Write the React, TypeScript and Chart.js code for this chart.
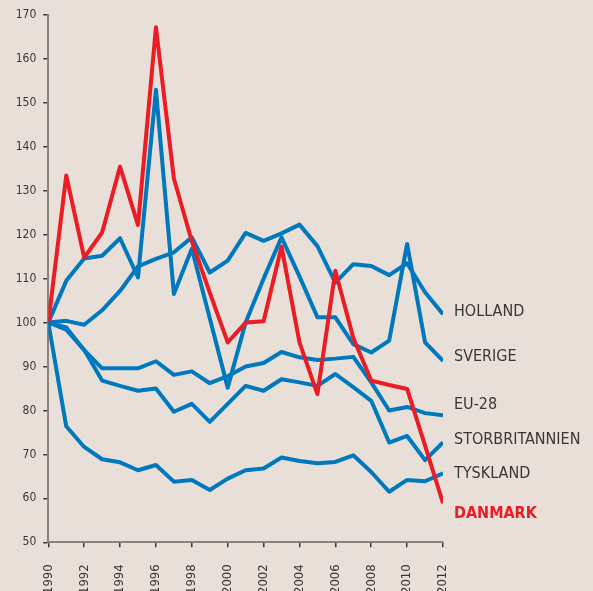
import React, { useEffect, useRef } from "react";
import { Chart, registerables } from "chart.js";

Chart.register(...registerables);

const years = [1990, 1991, 1992, 1993, 1994, 1995, 1996, 1997, 1998, 1999, 2000, 2001, 2002, 2003, 2004, 2005, 2006, 2007, 2008, 2009, 2010, 2011, 2012];

const danmark = [100, 133.5, 114.8, 120.5, 135.5, 122.2, 167.2, 132.8, 118.5, 106.8, 95.5, 100, 100.3, 117.3, 95.5, 83.7, 111.8, 96.5, 86.8, 85.8, 84.9, 72, 58.9];
const holland = [100, 100.4, 99.5, 102.8, 107.2, 112.8, 114.5, 116, 119.4, 111.4, 114.1, 120.4, 118.6, 120.3, 122.3, 117.4, 109.1, 113.3, 112.9, 110.8, 113.5, 106.9, 101.9];
const sverige = [100, 109.5, 114.6, 115.2, 119.2, 110.3, 153, 106.5, 116.8, 101, 85.2, 100, 110, 119.4, 110.5, 101.2, 101.2, 95.1, 93.2, 95.9, 117.9, 95.5, 91.3];
const eu28 = [100, 98.9, 93.7, 89.6, 89.6, 89.6, 91.2, 88.1, 88.9, 86.2, 87.8, 90, 90.8, 93.3, 92.1, 91.5, 91.8, 92.2, 86.4, 80, 80.8, 79.4, 78.9];
const storbritannien = [100, 98.4, 93.8, 86.8, 85.6, 84.5, 85, 79.7, 81.5, 77.4, 81.5, 85.6, 84.5, 87.1, 86.4, 85.6, 88.3, 85.3, 82.2, 72.7, 74.2, 68.7, 72.7];
const tyskland = [100, 76.4, 71.7, 68.9, 68.2, 66.4, 67.6, 63.8, 64.2, 61.9, 64.5, 66.4, 66.8, 69.3, 68.5, 68, 68.3, 69.8, 66, 61.5, 64.2, 63.9, 65.7];

const seriesNames = ["DANMARK", "HOLLAND", "SVERIGE", "EU-28", "STORBRITANNIEN", "TYSKLAND"];
const seriesValues = [danmark, holland, sverige, eu28, storbritannien, tyskland];
const labelNames = ["HOLLAND", "SVERIGE", "EU-28", "STORBRITANNIEN", "TYSKLAND", "DANMARK"];
const labelAnchors = [102.5, 92.3, 81.2, 73.3, 65.6, 56.5];

const BLUE = "rgb(0,120,190)";
const RED = "rgb(237,28,36)";
const BG = "rgb(232,224,216)";
const TEXT = "#3a3634";
const FONT = "'DejaVu Sans Condensed', 'DejaVu Sans', sans-serif";

export default function App() {
  const ref = useRef<HTMLCanvasElement>(null);
  useEffect(() => {
    document.body.style.margin = "0";
    document.body.style.overflow = "hidden";
    document.body.style.background = BG;
    const endLabels = {
      id: "endLabels",
      afterDraw(chart: any) {
        const ctx = chart.ctx;
        const y = chart.scales.y;
        const x0 = chart.chartArea.right + 11;
        ctx.save();
        ctx.textBaseline = "middle";
        ctx.textAlign = "left";
        labelNames.forEach((n, i) => {
          const isDk = n === "DANMARK";
          ctx.font = (isDk ? "bold " : "") + "16px " + FONT;
          ctx.fillStyle = isDk ? RED : TEXT;
          ctx.fillText(n, x0, y.getPixelForValue(labelAnchors[i]));
        });
        ctx.restore();
      },
    };
    const chart = new Chart(ref.current!, {
      type: "line",
      data: {
        datasets: seriesNames.map((name, i) => ({
          label: name,
          data: years.map((yr, j) => ({ x: yr, y: seriesValues[i][j] })),
          borderColor: name === "DANMARK" ? RED : BLUE,
          borderWidth: 4,
          pointRadius: 0,
          tension: 0,
          fill: false,
          borderJoinStyle: "round" as const,
        })),
      },
      options: {
        animation: false,
        responsive: false,
        events: [],
        layout: { padding: { left: 0, right: 150, top: 15, bottom: 0 } },
        plugins: { legend: { display: false }, tooltip: { enabled: false } },
        scales: {
          x: {
            type: "linear",
            min: 1990,
            max: 2012,
            afterFit: (s: any) => { s.height = 48.7; },
            ticks: {
              stepSize: 2,
              minRotation: 90,
              maxRotation: 90,
              padding: 17,
              color: TEXT,
              font: { family: FONT, size: 13 },
              callback: (v: any) => String(v),
            },
            grid: { drawOnChartArea: false, drawTicks: true, tickLength: 5, tickColor: "#3a3634", lineWidth: 1.5 },
            border: { display: true, color: "#8a837d", width: 2 },
          },
          y: {
            min: 50,
            max: 170,
            afterFit: (s: any) => { s.width = 48.3; },
            ticks: {
              stepSize: 10,
              padding: 7,
              color: TEXT,
              font: { family: FONT, size: 12 },
            },
            grid: { drawOnChartArea: false, drawTicks: true, tickLength: 5, tickColor: "#3a3634", lineWidth: 1.5 },
            border: { display: true, color: "#8a837d", width: 2 },
          },
        },
      },
      plugins: [endLabels],
    });
    return () => chart.destroy();
  }, []);
  return (
    <div style={{ width: 593, height: 591, background: BG }}>
      <canvas ref={ref} width={593} height={591} style={{ display: "block" }} />
    </div>
  );
}
